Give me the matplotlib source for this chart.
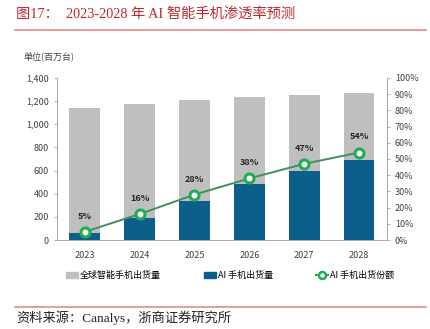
import matplotlib
matplotlib.use("Agg")
import matplotlib.pyplot as plt
from matplotlib.lines import Line2D

plt.rcParams['font.family'] = ['Liberation Sans Narrow', 'Noto Sans CJK SC', 'DejaVu Sans']

# data
years = ['2023', '2024', '2025', '2026', '2027', '2028']
total_shipments = [1138, 1175, 1210, 1236, 1253, 1270]   # 全球智能手机出货量 (百万台)
ai_shipments = [63, 187, 340, 481, 596, 695]              # AI 手机出货量 (百万台)
ai_share = [5, 16, 28, 38, 47, 54]                        # AI 手机出货份额 (%)

left_ticks = [0, 200, 400, 600, 800, 1000, 1200, 1400]
right_ticks = list(range(0, 101, 10))

gray = '#bfbfbf'
blue = '#0d5f8b'
green_line = '#3f8f5f'
green_mk = '#1fae4f'
axis_col = '#a6a6a6'
red = '#c0272d'

fig = plt.figure(figsize=(4.3, 3.29), dpi=100)
ax = fig.add_axes([0.133, 0.2705, 0.766, 0.4925])
x = list(range(len(years)))

ax.bar(x, total_shipments, width=0.56, color=gray, zorder=2)
ax.bar(x, ai_shipments, width=0.56, color=blue, zorder=3)

ax.set_xlim(-0.5, 5.5)
ax.set_ylim(0, 1400)
ax.set_yticks(left_ticks)
ax.set_yticklabels(['{:,}'.format(v) for v in left_ticks])
ax.set_xticks(x)
ax.set_xticklabels(years)
ax.tick_params(axis='both', labelsize=6.5, colors='#404040', length=2.5, width=0.6)
ax.tick_params(axis='x', length=0, pad=8)
ax.tick_params(axis='both', color=axis_col)
for s in ['top', 'right']:
    ax.spines[s].set_visible(False)
for s in ['left', 'bottom']:
    ax.spines[s].set_color(axis_col)
    ax.spines[s].set_linewidth(0.7)

ax2 = ax.twinx()
ax2.plot(x, ai_share, color=green_line, lw=1.4, zorder=5,
         marker='o', ms=6.5, mfc='white', mec=green_mk, mew=2.2)
ax2.set_ylim(0, 100)
ax2.set_yticks(right_ticks)
ax2.set_yticklabels(['{}%'.format(v) for v in right_ticks])
ax2.tick_params(axis='y', labelsize=6.5, colors='#404040', length=2.5, width=0.6)
ax2.tick_params(axis='y', color=axis_col)
for s in ['top', 'left', 'bottom']:
    ax2.spines[s].set_visible(False)
ax2.spines['right'].set_color(axis_col)
ax2.spines['right'].set_linewidth(0.7)

for xi, v in zip(x, ai_share):
    ax2.annotate('{}%'.format(v), (xi, v), xytext=(0, 8), textcoords='offset points',
                 ha='center', va='bottom', fontsize=6.5, fontweight='bold', color='#262626')

ax.text(-0.025, 1.125, '单位(百万台)', transform=ax.transAxes, fontsize=6.5,
        color='#404040', ha='center', va='center')

# legend below the plot
handles = [
    plt.Rectangle((0, 0), 1, 1, color=gray),
    plt.Rectangle((0, 0), 1, 1, color=blue),
    Line2D([], [], color=green_line, lw=1.4, marker='o', ms=5, mfc='white', mec=green_mk, mew=1.8),
]
labels = ['全球智能手机出货量', 'AI 手机出货量', 'AI 手机出货份额']
fig.legend(handles, labels, loc='center', bbox_to_anchor=(0.535, 0.163), ncol=3,
           frameon=False, fontsize=6.5, handlelength=1.3, handleheight=0.6,
           handletextpad=0.2, columnspacing=4.8)

# title, rules and source note
fig.text(0.037, 0.957, '图17：  2023-2028 年 AI 智能手机渗透率预测', color=red, fontsize=10.3,
         family=['Liberation Serif', 'Noto Sans CJK SC'], va='center', ha='left')
fig.add_artist(Line2D([0.035, 0.99], [0.909, 0.909], color='#e58a8a', lw=1.2))
fig.add_artist(Line2D([0.035, 0.99], [0.068, 0.068], color='#e58a8a', lw=1.2))
fig.text(0.037, 0.033, '资料来源：Canalys，浙商证券研究所', color='#222222', fontsize=9.5,
         family=['Liberation Serif', 'Noto Sans CJK SC'], va='center', ha='left')

fig.savefig('out.png', dpi=100, facecolor='white')
